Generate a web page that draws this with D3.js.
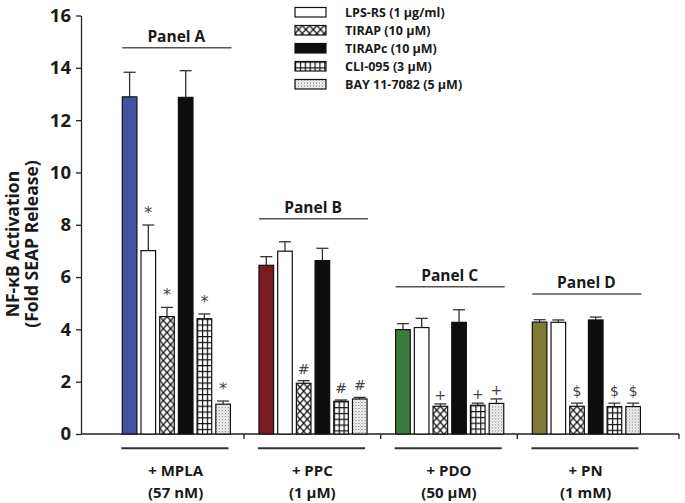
<!DOCTYPE html>
<html>
<head>
<meta charset="utf-8">
<script src="https://cdn.jsdelivr.net/npm/d3@7"></script>
<style>
  html, body { margin: 0; padding: 0; background: #fff; }
  svg { display: block; }
</style>
</head>
<body>
<svg id="chart" width="685" height="503"></svg>
<script>
// ---------- DATA ----------
const groups = ["+ MPLA", "+ PPC", "+ PDO", "+ PN"];
const groupSub = ["(57 nM)", "(1 μM)", "(50 μM)", "(1 mM)"];
const panels = ["Panel A", "Panel B", "Panel C", "Panel D"];
const seriesNames = ["Agonist", "LPS-RS (1 μg/ml)", "TIRAP (10 μM)", "TIRAPc (10 μM)", "CLI-095 (3 μM)", "BAY 11-7082 (5 μM)"];
const legendSeries = ["LPS-RS (1 μg/ml)", "TIRAP (10 μM)", "TIRAPc (10 μM)", "CLI-095 (3 μM)", "BAY 11-7082 (5 μM)"];

const meanA = [12.89, 7.01, 4.49, 12.87, 4.41, 1.14];
const meanB = [6.45, 6.99, 1.94, 6.63, 1.25, 1.34];
const meanC = [3.99, 4.07, 1.06, 4.27, 1.10, 1.17];
const meanD = [4.28, 4.27, 1.06, 4.36, 1.05, 1.05];

const semA = [0.94, 0.98, 0.35, 1.02, 0.18, 0.12];
const semB = [0.33, 0.36, 0.10, 0.47, 0.05, 0.06];
const semC = [0.23, 0.35, 0.09, 0.48, 0.08, 0.17];
const semD = [0.09, 0.09, 0.12, 0.11, 0.13, 0.13];

const sigMarkers = ["*", "#", "+", "$"];
const sigA = [1, 2, 4, 5];
const sigB = [2, 4, 5];
const sigC = [2, 4, 5];
const sigD = [2, 4, 5];

const yTicks = [0, 2, 4, 6, 8, 10, 12, 14, 16];

const means = [meanA, meanB, meanC, meanD];
const sems = [semA, semB, semC, semD];
const sigs = [sigA, sigB, sigC, sigD];

// ---------- STYLE ----------
const agonistColors = ["#4152a0", "#7a1c1f", "#3d7a3b", "#7f7b37"];
const seriesStyle = ["agonist", "white", "cross", "black", "grid", "dots"];
const FONT = "'Open Sans', 'Noto Sans', sans-serif";

const svg = d3.select("#chart");
const defs = svg.append("defs");

const axisLeftX = 81, axisBottomY = 434, axisTopY = 15.5, axisRightX = 679;

const y = d3.scaleLinear().domain([0, 16]).range([axisBottomY, axisTopY]);
const x0 = d3.scaleBand().domain(groups).range([107.3, 654]).paddingInner(0).paddingOuter(0);
const x1 = d3.scaleBand().domain(d3.range(seriesNames.length)).range([15, 123.1]).paddingInner(0.219).paddingOuter(0);

let pid = 0;
function pattern(type, ox, oy) {
  const id = "p" + (pid++);
  if (type === "cross") {
    const w = 7.3, h = 8;
    const p = defs.append("pattern").attr("id", id).attr("patternUnits", "userSpaceOnUse")
      .attr("x", ox).attr("y", oy).attr("width", w).attr("height", h);
    p.append("rect").attr("width", w).attr("height", h).attr("fill", "#fff");
    p.append("path").attr("d", `M0,0L${w},${h}M${w},0L0,${h}`).attr("stroke", "#111").attr("stroke-width", 1.3);
  } else if (type === "grid") {
    const w = 4.87, h = 5.8;
    const p = defs.append("pattern").attr("id", id).attr("patternUnits", "userSpaceOnUse")
      .attr("x", ox).attr("y", oy).attr("width", w).attr("height", h);
    p.append("rect").attr("width", w).attr("height", h).attr("fill", "#fff");
    p.append("path").attr("d", `M0.6,0V${h}M0,0.6H${w}`).attr("stroke", "#111").attr("stroke-width", 1.2);
  } else if (type === "dots") {
    const p = defs.append("pattern").attr("id", id).attr("patternUnits", "userSpaceOnUse")
      .attr("x", ox).attr("y", oy).attr("width", 3).attr("height", 3);
    p.append("rect").attr("width", 3).attr("height", 3).attr("fill", "#fff");
    p.append("rect").attr("width", 1).attr("height", 1).attr("fill", "#555");
    p.append("rect").attr("x", 1.5).attr("y", 1.5).attr("width", 1).attr("height", 1).attr("fill", "#777");
  }
  return "url(#" + id + ")";
}
function fillFor(style, gi, bx, by) {
  if (style === "agonist") return agonistColors[gi];
  if (style === "white") return "#fff";
  if (style === "black") return "#0d0d0d";
  return pattern(style, bx, by);
}

// ---------- Y AXIS ----------
const yAxis = svg.append("g").attr("transform", `translate(${axisLeftX},0)`)
  .call(d3.axisLeft(y).tickValues(yTicks).tickSize(5).tickPadding(5).tickSizeOuter(0));
yAxis.select(".domain").attr("stroke", "#222").attr("stroke-width", 1.3);
yAxis.selectAll(".tick line").attr("stroke", "#222").attr("stroke-width", 1.3);
yAxis.selectAll(".tick text").attr("font-family", FONT).attr("font-weight", 700)
  .attr("font-size", 18.5).attr("fill", "#1a1a1a");

const yl = svg.append("text").attr("transform", `translate(19,244) rotate(-90)`)
  .attr("text-anchor", "middle").attr("font-family", FONT).attr("font-weight", 700)
  .attr("font-size", 17.5).attr("fill", "#1a1a1a");
yl.append("tspan").attr("x", 0).attr("dy", 0).text("NF-κB Activation");
yl.append("tspan").attr("x", 0).attr("dy", 19).text("(Fold SEAP Release)");

// ---------- X AXIS ----------
svg.append("line").attr("x1", axisLeftX).attr("x2", axisRightX)
  .attr("y1", axisBottomY).attr("y2", axisBottomY).attr("stroke", "#222").attr("stroke-width", 1.3);
const xTickPos = groups.slice(0, -1).map(g => x0(g) + x0.bandwidth()).concat([axisRightX]);
svg.selectAll(".xtick").data(xTickPos).join("line").attr("class", "xtick")
  .attr("x1", d => d).attr("x2", d => d).attr("y1", axisBottomY).attr("y2", axisBottomY + 5)
  .attr("stroke", "#222").attr("stroke-width", 1.3);

// ---------- BARS ----------
groups.forEach((g, gi) => {
  const gx = x0(g);
  const gEl = svg.append("g");
  const barsData = means[gi].map((m, si) => ({ m, s: sems[gi][si], si }));
  barsData.forEach(d => {
    const cx = gx + x1(d.si) + x1.bandwidth() / 2;
    gEl.append("line").attr("x1", cx).attr("x2", cx).attr("y1", y(d.m)).attr("y2", y(d.m + d.s))
      .attr("stroke", "#333").attr("stroke-width", 1.3);
    gEl.append("line").attr("x1", cx - 6).attr("x2", cx + 6).attr("y1", y(d.m + d.s)).attr("y2", y(d.m + d.s))
      .attr("stroke", "#333").attr("stroke-width", 1.3);
  });
  barsData.forEach(d => {
    const bx = gx + x1(d.si), by = y(d.m);
    gEl.append("rect").attr("x", bx).attr("y", by).attr("width", x1.bandwidth())
      .attr("height", y(0) - by)
      .attr("fill", fillFor(seriesStyle[d.si], gi, bx, by))
      .attr("stroke", "#111").attr("stroke-width", 1.2);
  });
  sigs[gi].forEach(si => {
    const cx = gx + x1(si) + x1.bandwidth() / 2;
    const cap = y(means[gi][si] + sems[gi][si]);
    const mk = sigMarkers[gi];
    const off = mk === "*" ? 7 : (mk === "+" ? 4 : 7);
    gEl.append("text").attr("x", cx).attr("y", cap - off).attr("text-anchor", "middle")
      .attr("font-family", "'DejaVu Sans', sans-serif").attr("font-size", mk === "*" ? 16 : 14)
      .attr("fill", "#444").text(mk);
  });
  const left = gx + x1(0), right = gx + x1(seriesNames.length - 1) + x1.bandwidth();
  const maxCap = d3.max(means[gi].map((m, si) => m + sems[gi][si]));
  const ly = y(maxCap + 0.88);
  gEl.append("line").attr("x1", left).attr("x2", right + 1).attr("y1", ly).attr("y2", ly)
    .attr("stroke", "#555").attr("stroke-width", 1.5);
  gEl.append("text").attr("x", (left + right) / 2).attr("y", ly - 6).attr("text-anchor", "middle")
    .attr("font-family", FONT).attr("font-weight", 700).attr("font-size", 15.5).attr("fill", "#1a1a1a")
    .text(panels[gi]);
  gEl.append("line").attr("x1", left - 1).attr("x2", right - 2).attr("y1", 448.3).attr("y2", 448.3)
    .attr("stroke", "#333").attr("stroke-width", 2);
  gEl.append("text").attr("x", gx + x0.bandwidth() / 2).attr("y", 476).attr("text-anchor", "middle")
    .attr("font-family", FONT).attr("font-weight", 700).attr("font-size", 15).attr("fill", "#1a1a1a")
    .text(g);
  gEl.append("text").attr("x", gx + x0.bandwidth() / 2).attr("y", 497.5).attr("text-anchor", "middle")
    .attr("font-family", FONT).attr("font-weight", 700).attr("font-size", 15).attr("fill", "#1a1a1a")
    .text(groupSub[gi]);
});

// ---------- LEGEND ----------
const legend = svg.append("g");
legendSeries.forEach((name, i) => {
  const ly = 7.5 + i * 18;
  const style = seriesStyle[i + 1];
  legend.append("rect").attr("x", 295).attr("y", ly).attr("width", 31).attr("height", 9.5)
    .attr("fill", fillFor(style, 0, 295, ly)).attr("stroke", "#111").attr("stroke-width", 1.2);
  legend.append("text").attr("x", 345).attr("y", ly + 9.7).attr("font-family", FONT)
    .attr("font-weight", 700).attr("font-size", 12.5).attr("fill", "#1a1a1a").text(name);
});
</script>
</body>
</html>
